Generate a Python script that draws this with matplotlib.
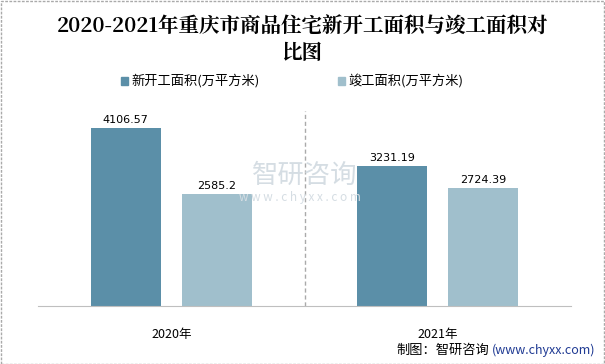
import matplotlib
matplotlib.use("Agg")
import matplotlib.pyplot as plt
from matplotlib.patches import Rectangle
import numpy as np

plt.rcParams['font.family'] = ['Noto Sans CJK SC', 'DejaVu Sans']

categories = ["2020年", "2021年"]
series_names = ["新开工面积(万平方米)", "竣工面积(万平方米)"]
new_start = [4106.57, 3231.19]
completed = [2585.2, 2724.39]
labels_new = ["4106.57", "3231.19"]
labels_comp = ["2585.2", "2724.39"]

c_dark = "#5b8fa8"
c_light = "#a0bfcc"

fig = plt.figure(figsize=(6.05, 3.64), dpi=100)
ax = fig.add_axes([38/605, 1-306/364, 533/605, 195/364])

x = np.arange(len(categories))
w = 0.263
off = 0.171
ax.bar(x - off, new_start, w, color=c_dark, label=series_names[0])
ax.bar(x + off, completed, w, color=c_light, label=series_names[1])
for i in range(len(categories)):
    ax.text(x[i] - off, new_start[i] + 60, labels_new[i], ha='center', va='bottom', fontsize=8, family='DejaVu Sans')
    ax.text(x[i] + off, completed[i] + 60, labels_comp[i], ha='center', va='bottom', fontsize=8, family='DejaVu Sans')

ax.set_xlim(-0.5, 1.5)
ax.set_ylim(0, 4500)
ax.axvline(0.5, color='#aaaaaa', linestyle=(0, (3, 2)), linewidth=1)
for s in ['top', 'right', 'left']:
    ax.spines[s].set_visible(False)
ax.spines['bottom'].set_color('#bfbfbf')
ax.set_yticks([])
ax.set_xticks(x)
ax.set_xticklabels(categories, fontsize=9)
ax.tick_params(axis='x', length=0, pad=16)

tfam = ['Noto Serif CJK SC', 'Noto Sans CJK SC']
fig.text(0.5, 1 - 27/364, "2020-2021年重庆市商品住宅新开工面积与竣工面积对", ha='center', va='center', fontsize=14.8, fontweight='bold', family=tfam)
fig.text(0.5, 1 - 53/364, "比图", ha='center', va='center', fontsize=14.8, fontweight='bold', family=tfam)

# legend
leg_y = 1 - 81/364
fig.patches.append(Rectangle((121/605, leg_y - 3.5/364), 7/605, 7/364, transform=fig.transFigure, color=c_dark))
fig.text(131/605, leg_y, series_names[0], ha='left', va='center', fontsize=9.5)
fig.patches.append(Rectangle((338/605, leg_y - 3.5/364), 7/605, 7/364, transform=fig.transFigure, color=c_light))
fig.text(348/605, leg_y, series_names[1], ha='left', va='center', fontsize=9.5)

# watermark
fig.text(305/605, 1 - 175/364, "智研咨询", ha='center', va='center', fontsize=19, color='#d5dde3', zorder=0)
fig.text(300/605, 1 - 198/364, "w w w . c h y x x . c o m", ha='center', va='center', fontsize=8.5, color='#d5dde3', zorder=0)

# source
fig.text(489/605, 1 - 350/364, "制图：智研咨询", ha='right', va='center', fontsize=9.5, color='black')
fig.text(595/605, 1 - 350/364, "(www.chyxx.com)", ha='right', va='center', fontsize=9, color='#1f3a93')

# border
fig.patches.append(Rectangle((0.5/605, 0.5/364), 603.5/605, 362.5/364, transform=fig.transFigure, fill=False, edgecolor='#aaaaaa', linewidth=1, linestyle=(0, (2, 1))))

fig.savefig("out.png", dpi=100)
